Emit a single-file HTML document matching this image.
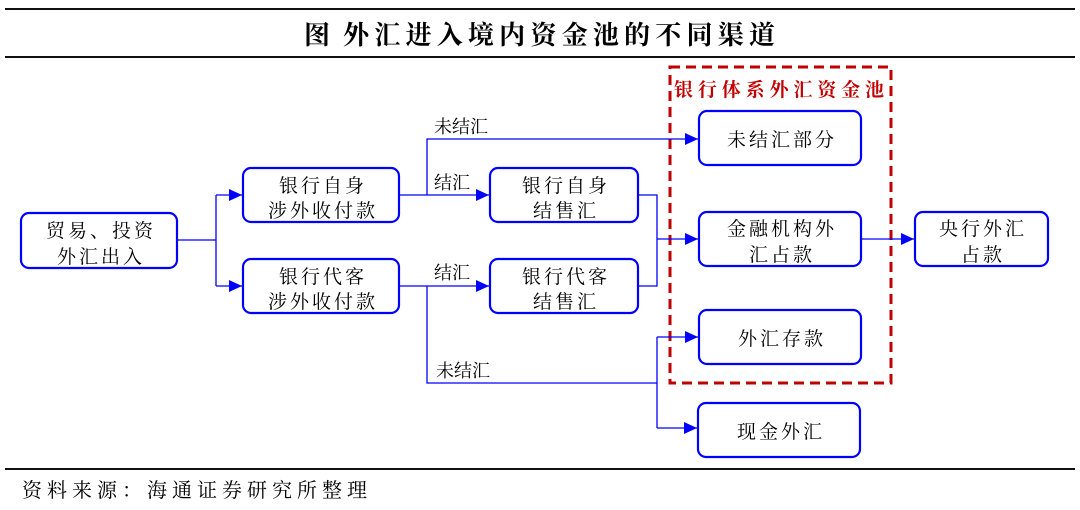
<!DOCTYPE html>
<html><head><meta charset="utf-8"><style>
html,body{margin:0;padding:0;background:#fff;}
svg{display:block;}
text{font-family:"Liberation Serif","Noto Serif CJK SC",serif;fill:#000;}
.b text{letter-spacing:3px;}
</style></head><body>
<svg width="1080" height="510" viewBox="0 0 1080 510" xmlns="http://www.w3.org/2000/svg">
<defs>
<marker id="a" markerWidth="14" markerHeight="14" refX="13" refY="7" orient="auto" markerUnits="userSpaceOnUse">
<path d="M0,1 L13,7 L0,13 z" fill="#0000ff"/></marker>
</defs>
<line x1="5" y1="9" x2="1075" y2="9" stroke="#111" stroke-width="2"/>
<line x1="5" y1="57" x2="1075" y2="57" stroke="#111" stroke-width="2"/>
<text x="304" y="44" font-size="26" font-weight="bold">图</text>
<text x="343" y="44" font-size="26" font-weight="bold" textLength="432">外汇进入境内资金池的不同渠道</text>

<rect x="670" y="67" width="221" height="316" fill="none" stroke="#c00000" stroke-width="3" stroke-dasharray="10,6"/>
<text x="674" y="96" font-size="19" font-weight="bold" style="fill:#c00000" textLength="210">银行体系外汇资金池</text>

<g fill="none" stroke="#0000ff" stroke-width="2.2">
<rect x="21" y="213" width="156" height="55" rx="8"/>
<rect x="243" y="168" width="156" height="54" rx="8"/>
<rect x="243" y="259" width="156" height="54" rx="8"/>
<rect x="490" y="168" width="148" height="54" rx="8"/>
<rect x="490" y="259" width="148" height="54" rx="8"/>
<rect x="699" y="111" width="162" height="54" rx="8"/>
<rect x="699" y="212" width="162" height="54" rx="8"/>
<rect x="915" y="212" width="133" height="54" rx="8"/>
<rect x="699" y="310" width="162" height="54" rx="8"/>
<rect x="698" y="403" width="162" height="54" rx="8"/>
</g>
<g fill="none" stroke="#0000ff" stroke-width="1.3">
<line x1="177" y1="240" x2="216" y2="240"/>
<line x1="216" y1="195" x2="216" y2="286"/>
<line x1="216" y1="195" x2="242" y2="195" marker-end="url(#a)"/>
<line x1="216" y1="286" x2="242" y2="286" marker-end="url(#a)"/>
<line x1="399" y1="195" x2="489" y2="195" marker-end="url(#a)"/>
<polyline points="427,195 427,139 698,139" marker-end="url(#a)"/>
<line x1="399" y1="286" x2="489" y2="286" marker-end="url(#a)"/>
<polyline points="427,286 427,383 657,383"/>
<polyline points="638,195 657,195 657,286 638,286"/>
<line x1="657" y1="239" x2="698" y2="239" marker-end="url(#a)"/>
<line x1="861" y1="239" x2="914" y2="239" marker-end="url(#a)"/>
<line x1="657" y1="337" x2="657" y2="428"/>
<line x1="657" y1="337" x2="698" y2="337" marker-end="url(#a)"/>
<line x1="657" y1="428" x2="697" y2="428" marker-end="url(#a)"/>
</g>

<g class="b" font-size="19" text-anchor="middle">
<text x="101" y="237">贸易、投资</text><text x="101" y="263">外汇出入</text>
<text x="323" y="192">银行自身</text><text x="323" y="217">涉外收付款</text>
<text x="323" y="283">银行代客</text><text x="323" y="308">涉外收付款</text>
<text x="566" y="192">银行自身</text><text x="566" y="217">结售汇</text>
<text x="566" y="283">银行代客</text><text x="566" y="308">结售汇</text>
<text x="782" y="146">未结汇部分</text>
<text x="782" y="235">金融机构外</text><text x="782" y="261">汇占款</text>
<text x="983" y="235">央行外汇</text><text x="983" y="261">占款</text>
<text x="782" y="345">外汇存款</text>
<text x="781" y="438">现金外汇</text>
</g>
<g font-size="18">
<text x="434" y="133">未结汇</text>
<text x="434" y="189">结汇</text>
<text x="434" y="279">结汇</text>
<text x="436" y="377">未结汇</text>
</g>

<line x1="5" y1="469" x2="1075" y2="469" stroke="#111" stroke-width="2"/>
<text x="22" y="497" font-size="20" textLength="345">资料来源：海通证券研究所整理</text>
</svg>
</body></html>
